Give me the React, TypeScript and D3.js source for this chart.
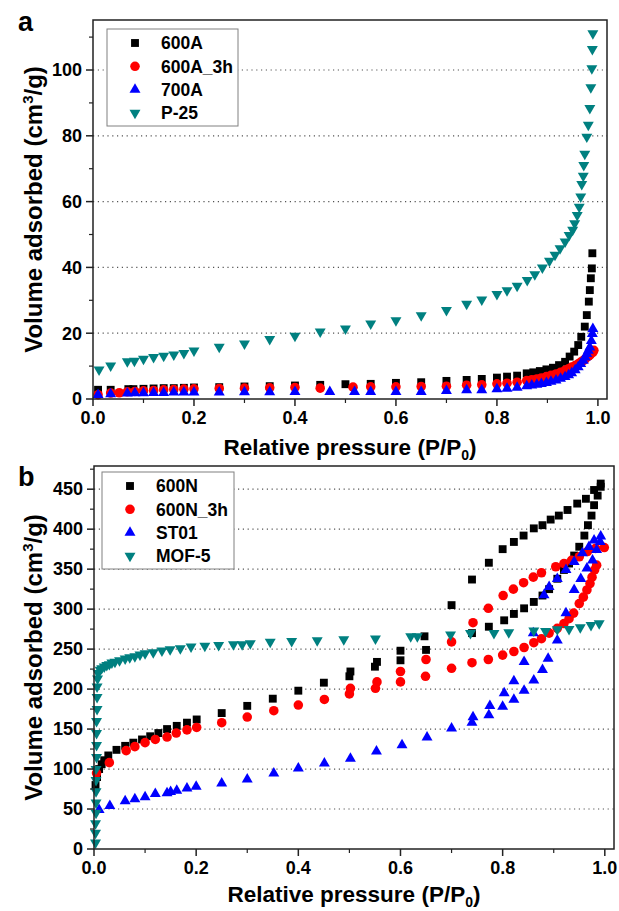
import React from 'react';
import * as d3 from 'd3';

const FONT = '"Liberation Sans", Arial, Helvetica, sans-serif';

// ---- panel a : [P/P0, volume] ----
const a600A: [number, number][] = [
  [0.01, 2.8], [0.035, 2.8], [0.07, 3.0], [0.08, 3.0], [0.1, 3.1], [0.12, 3.2], [0.14, 3.3], [0.16, 3.3],
  [0.18, 3.4], [0.2, 3.5], [0.25, 3.6], [0.3, 3.8], [0.35, 3.9], [0.4, 4.1], [0.45, 4.3], [0.5, 4.5],
  [0.55, 4.6], [0.6, 4.9], [0.65, 5.1], [0.7, 5.5], [0.74, 5.8], [0.77, 6.1], [0.8, 6.5], [0.82, 6.8],
  [0.84, 7.1], [0.859, 7.8], [0.872, 8.1], [0.885, 8.5], [0.898, 9.0], [0.911, 9.5], [0.923, 10.3],
  [0.935, 11.3], [0.944, 12.9], [0.953, 14.4], [0.961, 16.4], [0.967, 18.9], [0.974, 22.0], [0.978, 25.5],
  [0.982, 29.6], [0.984, 33.1], [0.986, 36.7], [0.988, 39.7], [0.989, 44.3],
];
const a600A_3h: [number, number][] = [
  [0.01, 1.3], [0.035, 1.8], [0.052, 1.9], [0.068, 2.2], [0.083, 2.3], [0.1, 2.5], [0.12, 2.6], [0.14, 2.8],
  [0.16, 2.9], [0.18, 3.0], [0.2, 3.1], [0.25, 3.2], [0.3, 3.3], [0.35, 3.4], [0.4, 3.5], [0.45, 3.3],
  [0.515, 3.6], [0.55, 3.7], [0.6, 3.7], [0.65, 3.8], [0.7, 3.9], [0.74, 4.2], [0.77, 4.3], [0.8, 4.6],
  [0.82, 4.8], [0.84, 5.1], [0.859, 5.6], [0.869, 5.85], [0.879, 6.1], [0.888, 6.4], [0.898, 6.8],
  [0.907, 7.2], [0.917, 7.6], [0.926, 8.1], [0.935, 8.7], [0.942, 9.2], [0.948, 9.7], [0.955, 10.2],
  [0.961, 10.7], [0.966, 11.2], [0.971, 11.7], [0.975, 12.2], [0.978, 12.7], [0.982, 13.1], [0.985, 13.5],
  [0.99, 14.2], [0.992, 14.8],
];
const a700A: [number, number][] = [
  [0.01, 1.3], [0.035, 1.5], [0.068, 1.7], [0.083, 1.8], [0.1, 1.8], [0.12, 1.9], [0.14, 1.9], [0.16, 2.0],
  [0.18, 2.0], [0.2, 2.0], [0.25, 2.0], [0.3, 2.1], [0.35, 2.1], [0.4, 2.2], [0.469, 2.2], [0.518, 2.2],
  [0.55, 2.2], [0.6, 2.2], [0.65, 2.2], [0.7, 2.5], [0.74, 2.7], [0.77, 2.7], [0.8, 3.0], [0.82, 3.2],
  [0.84, 3.5], [0.859, 3.9], [0.869, 4.15], [0.879, 4.4], [0.888, 4.6], [0.898, 4.9], [0.907, 5.3],
  [0.917, 5.7], [0.926, 6.2], [0.935, 6.7], [0.942, 7.3], [0.948, 7.9], [0.955, 8.8], [0.961, 9.7],
  [0.966, 10.7], [0.971, 11.7], [0.975, 12.7], [0.978, 13.7], [0.981, 14.7], [0.984, 15.7], [0.987, 17.7],
  [0.989, 19.8], [0.99, 21.3],
];
const aP25: [number, number][] = [
  [0.012, 8.9], [0.035, 10.1], [0.068, 11.4], [0.082, 11.6], [0.1, 12.2], [0.12, 12.7], [0.14, 13.1],
  [0.16, 13.5], [0.18, 13.9], [0.2, 14.7], [0.25, 15.8], [0.3, 16.8], [0.35, 18.2], [0.4, 19.2], [0.45, 20.5],
  [0.5, 21.4], [0.55, 22.9], [0.6, 23.9], [0.65, 25.4], [0.7, 27.0], [0.74, 28.9], [0.77, 30.2], [0.8, 31.9],
  [0.82, 33.0], [0.84, 34.4], [0.86, 36.1], [0.875, 37.9], [0.89, 39.9], [0.904, 42.0], [0.915, 43.8],
  [0.925, 45.8], [0.935, 47.8], [0.943, 49.8], [0.95, 51.4], [0.954, 53.4], [0.959, 55.9], [0.963, 58.4],
  [0.966, 61.5], [0.968, 65.3], [0.971, 67.8], [0.972, 71.1], [0.974, 74.5], [0.978, 79.7], [0.981, 83.3],
  [0.984, 88.4], [0.986, 94.7], [0.988, 100.5], [0.989, 106.3], [0.99, 111.1],
];

// ---- panel b ----
const b600N: [number, number][] = [
  [0.003, 80], [0.006, 90], [0.01, 100], [0.015, 106], [0.02, 111], [0.028, 117], [0.044, 124], [0.061, 129],
  [0.077, 133], [0.094, 137], [0.11, 141], [0.126, 145], [0.143, 150], [0.162, 154], [0.182, 158], [0.201, 162],
  [0.25, 170], [0.3, 179], [0.35, 188], [0.4, 198], [0.45, 208], [0.5, 216], [0.55, 228], [0.6, 236],
  [0.65, 249], [0.74, 270], [0.773, 278], [0.803, 286], [0.822, 294], [0.842, 301], [0.861, 309], [0.878, 317],
  [0.891, 325], [0.907, 338], [0.92, 349], [0.93, 357], [0.94, 367], [0.95, 378], [0.96, 392], [0.967, 405],
  [0.974, 417], [0.979, 430], [0.986, 442], [0.992, 453],
  [0.992, 457], [0.979, 449], [0.963, 438], [0.946, 432], [0.927, 424], [0.91, 417], [0.894, 412], [0.878, 405],
  [0.861, 401], [0.841, 392], [0.822, 384], [0.8, 375], [0.773, 358], [0.74, 337], [0.7, 305], [0.647, 266],
  [0.6, 248], [0.554, 234], [0.502, 222],
];
const b600N_3h: [number, number][] = [
  [0.005, 95], [0.03, 108], [0.063, 123], [0.08, 128], [0.1, 133], [0.12, 137], [0.143, 140], [0.161, 145],
  [0.182, 149], [0.201, 152], [0.25, 158], [0.3, 165], [0.352, 173], [0.4, 180], [0.451, 187], [0.5, 194],
  [0.551, 201], [0.6, 209], [0.649, 216], [0.7, 226], [0.74, 233], [0.772, 237], [0.8, 242.5], [0.822, 247],
  [0.842, 252], [0.861, 258], [0.876, 263], [0.891, 270], [0.907, 276], [0.92, 282], [0.93, 288], [0.939, 295],
  [0.95, 307], [0.958, 315], [0.965, 324], [0.971, 332], [0.975, 340], [0.98, 349], [0.984, 355],
  [0.999, 377], [0.982, 376], [0.966, 372], [0.95, 365.5], [0.935, 361], [0.92, 357], [0.904, 353],
  [0.876, 345.5], [0.86, 340], [0.841, 333], [0.821, 325], [0.801, 317], [0.772, 301], [0.742, 283],
  [0.7, 259], [0.65, 237], [0.6, 222], [0.554, 209], [0.502, 201],
];
const bST01: [number, number][] = [
  [0.01, 49], [0.031, 54], [0.061, 60], [0.08, 62.5], [0.1, 65], [0.12, 69], [0.143, 70], [0.15, 71.6],
  [0.162, 73], [0.182, 76], [0.2, 78], [0.25, 82], [0.3, 87], [0.352, 94.5], [0.4, 101], [0.451, 107],
  [0.502, 113], [0.553, 122], [0.603, 130], [0.652, 139.6], [0.7, 151], [0.74, 158], [0.773, 167.5],
  [0.8, 178], [0.822, 187], [0.842, 198], [0.861, 211], [0.878, 224], [0.889, 238], [0.907, 261], [0.924, 295],
  [0.94, 324], [0.953, 338], [0.965, 351], [0.976, 361], [0.984, 374], [0.991, 384],
  [0.992, 391], [0.979, 386], [0.969, 378], [0.956, 370], [0.94, 359], [0.924, 349], [0.907, 338],
  [0.891, 328], [0.881, 317.5], [0.86, 270], [0.842, 234], [0.822, 210], [0.803, 195], [0.775, 179],
  [0.742, 165],
];
const bMOF5: [number, number][] = [
  [0.003, 8], [0.003, 20], [0.003, 32], [0.004, 45], [0.004, 58], [0.004, 72], [0.004, 86], [0.004, 100],
  [0.005, 115], [0.005, 130], [0.005, 145], [0.005, 160], [0.006, 175], [0.006, 190], [0.006, 203],
  [0.007, 213], [0.008, 220], [0.012, 224], [0.015, 226], [0.02, 228], [0.025, 230], [0.03, 231],
  [0.035, 233], [0.041, 234], [0.05, 236], [0.061, 238], [0.07, 239.5], [0.08, 241], [0.09, 243],
  [0.1, 244.6], [0.116, 246], [0.133, 248], [0.149, 249.6], [0.169, 251], [0.19, 253], [0.217, 254],
  [0.244, 255], [0.273, 256], [0.29, 256], [0.306, 257], [0.345, 259], [0.387, 260], [0.437, 261],
  [0.489, 262], [0.551, 263], [0.62, 266], [0.633, 266], [0.698, 268], [0.737, 270], [0.783, 270],
  [0.812, 271], [0.861, 273], [0.884, 272.5], [0.907, 274.6], [0.93, 275], [0.952, 277], [0.973, 280],
  [0.989, 282],
];

const xTicks = [0, 0.2, 0.4, 0.6, 0.8, 1.0];
const xMinor = [0.1, 0.3, 0.5, 0.7, 0.9];
const aYTicks = [0, 20, 40, 60, 80, 100];
const aYMinor = [10, 30, 50, 70, 90, 110];
const bYTicks = [0, 50, 100, 150, 200, 250, 300, 350, 400, 450];
const bYMinor = [25, 75, 125, 175, 225, 275, 325, 375, 425, 475];

const aNames = ['600A', '600A_3h', '700A', 'P-25'];
const bNames = ['600N', '600N_3h', 'ST01', 'MOF-5'];
const colors = ['#000000', '#ff0000', '#0000ff', '#008080'];
const shapes = ['square', 'circle', 'up', 'down'];

const markerPath = (shape: string) => {
  if (shape === 'square') return d3.symbol(d3.symbolSquare, 62)();
  if (shape === 'circle') return d3.symbol(d3.symbolCircle, 72)();
  return d3.symbol(d3.symbolTriangle, 52)();
};

const Marker = ({ shape, x, y, color }: any) => (
  <path
    d={markerPath(shape) || ''}
    transform={`translate(${x},${y})${shape === 'down' ? ' rotate(180)' : ''}`}
    fill={color}
  />
);

const Panel = ({ left, right, top, bottom, yMax, yTicks, yMinor, series, names, legend, label, labelY, titleY }: any) => {
  const x = d3.scaleLinear().domain([0, 1.018]).range([left, right]);
  const y = d3.scaleLinear().domain([0, yMax]).range([bottom, top]);
  const midY = (top + bottom) / 2;
  const midX = (left + right) / 2;
  return (
    <g fontFamily={FONT} fontWeight="bold">
      {yTicks.filter((t: number) => t > 0).map((t: number) => (
        <line key={'g' + t} x1={left} x2={right} y1={y(t)} y2={y(t)}
          stroke="#555" strokeWidth={1.2} strokeDasharray="1.2 3.6" />
      ))}
      {series.map((pts: [number, number][], si: number) => (
        <g key={si}>
          {pts.map((p, i) => (
            <Marker key={i} shape={shapes[si]} x={x(p[0])} y={y(p[1])} color={colors[si]} />
          ))}
        </g>
      ))}
      <rect x={left} y={top} width={right - left} height={bottom - top} fill="none" stroke="#222" strokeWidth={1.5} />
      {yTicks.map((t: number) => (
        <g key={'y' + t}>
          <line x1={left - 7} x2={left} y1={y(t)} y2={y(t)} stroke="#222" strokeWidth={1.5} />
          <text x={left - 11} y={y(t)} dy="0.35em" textAnchor="end" fontSize={18}>{t}</text>
        </g>
      ))}
      {yMinor.map((t: number) => (
        <line key={'ym' + t} x1={left - 4} x2={left} y1={y(t)} y2={y(t)} stroke="#222" strokeWidth={1.2} />
      ))}
      {xTicks.map((t) => (
        <g key={'x' + t}>
          <line x1={x(t)} x2={x(t)} y1={bottom} y2={bottom + 7} stroke="#222" strokeWidth={1.5} />
          <text x={x(t)} y={bottom + 25} textAnchor="middle" fontSize={18}>{t.toFixed(1)}</text>
        </g>
      ))}
      {xMinor.map((t) => (
        <line key={'xm' + t} x1={x(t)} x2={x(t)} y1={bottom} y2={bottom + 4} stroke="#222" strokeWidth={1.2} />
      ))}
      <text x={midX} y={titleY} textAnchor="middle" fontSize={22.5}>
        Relative pressure (P/P<tspan dy={5} fontSize={14}>0</tspan><tspan dy={-5}>)</tspan>
      </text>
      <text transform={`translate(42,${midY}) rotate(-90)`} textAnchor="middle" fontSize={24}>
        Volume adsorbed (cm<tspan dy={-9} fontSize={15}>3</tspan><tspan dy={9}>/g)</tspan>
      </text>
      <text x={18} y={labelY} fontSize={27}>{label}</text>
      <rect x={legend.x} y={legend.y} width={legend.w} height={legend.h} fill="#fff" stroke="#808080" strokeWidth={1} />
      {names.map((n: string, i: number) => (
        <g key={n}>
          <Marker shape={shapes[i]} x={legend.x + 28} y={legend.y + 14 + i * 23.3} color={colors[i]} />
          <text x={legend.x + 54} y={legend.y + 14 + i * 23.3} dy="0.36em" fontSize={17.5}>{n}</text>
        </g>
      ))}
    </g>
  );
};

export default function App() {
  return (
    <svg width={619} height={911} style={{ position: 'absolute', left: 0, top: 0, background: '#fff' }}>
      <rect width={619} height={911} fill="#fff" />
      <Panel left={93} right={607} top={20} bottom={399} yMax={115.2}
        yTicks={aYTicks} yMinor={aYMinor} series={[a600A, a600A_3h, a700A, aP25]} names={aNames}
        legend={{ x: 107, y: 29, w: 131, h: 97 }} label="a" labelY={31} titleY={455} />
      <Panel left={94} right={614} top={466} bottom={849} yMax={479}
        yTicks={bYTicks} yMinor={bYMinor} series={[b600N, b600N_3h, bST01, bMOF5]} names={bNames}
        legend={{ x: 102, y: 472, w: 132, h: 97 }} label="b" labelY={486} titleY={902} />
    </svg>
  );
}
